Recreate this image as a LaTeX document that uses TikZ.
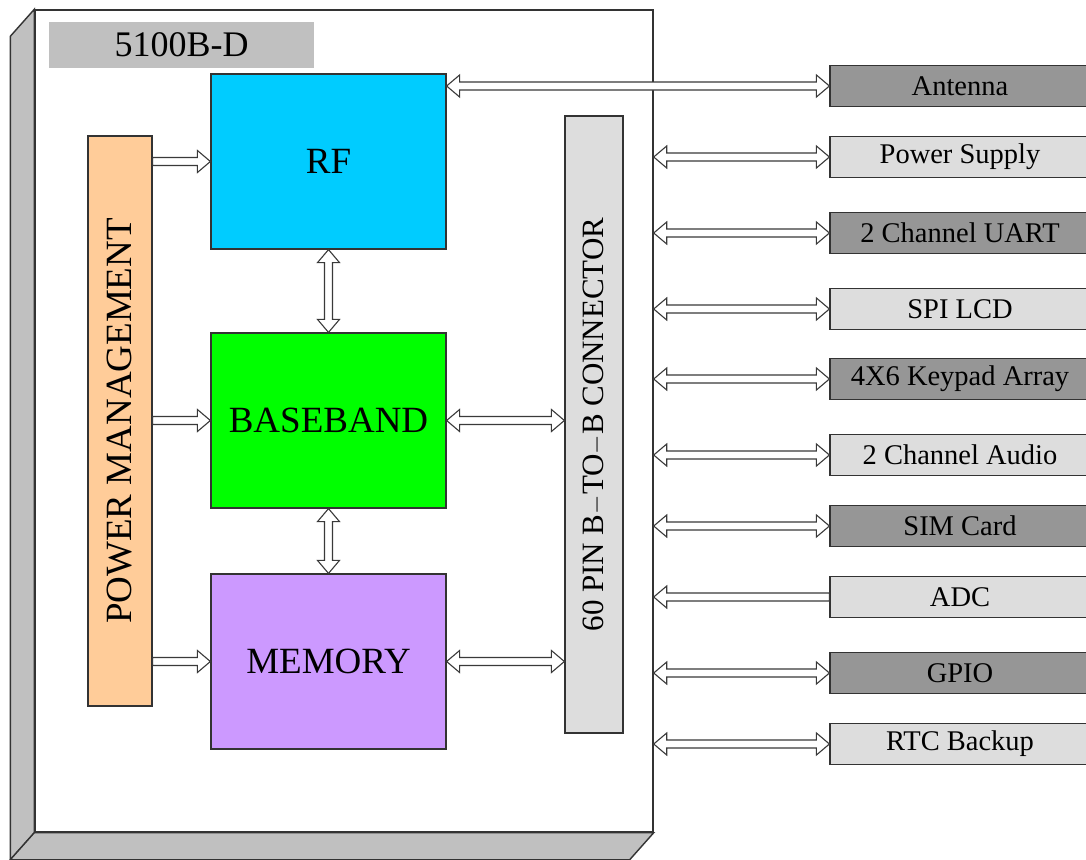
\documentclass[tikz,border=0pt]{standalone}
\usepackage{fontspec}
\setmainfont{Liberation Serif}
\usepackage{graphicx}
\usetikzlibrary{calc}
\definecolor{linec}{HTML}{333333}
\definecolor{arrc}{HTML}{3A3A3A}
\definecolor{sidec}{HTML}{C0C0C0}
\definecolor{rfc}{HTML}{00CCFF}
\definecolor{bbc}{HTML}{00FF00}
\definecolor{memc}{HTML}{CC99FF}
\definecolor{pmc}{HTML}{FFCC99}
\definecolor{conc}{HTML}{DDDDDD}
\definecolor{darkc}{HTML}{969696}
\definecolor{lightc}{HTML}{DDDDDD}
\newdimen\ahl \ahl=13pt
\newdimen\ahw \ahw=11pt
\newdimen\asw \asw=4pt
% horizontal double-headed hollow arrow
\newcommand\hbiarrow[2]{\draw[hol] let \p1=(#1), \p2=(#2) in
  (\x1,\y1) -- (\x1+\ahl,\y1+\ahw) -- (\x1+\ahl,\y1+\asw) -- (\x2-\ahl,\y1+\asw)
  -- (\x2-\ahl,\y1+\ahw) -- (\x2,\y1) -- (\x2-\ahl,\y1-\ahw) -- (\x2-\ahl,\y1-\asw)
  -- (\x1+\ahl,\y1-\asw) -- (\x1+\ahl,\y1-\ahw) -- cycle;}
% vertical double-headed hollow arrow
\newcommand\vbiarrow[2]{\draw[hol] let \p1=(#1), \p2=(#2) in
  (\x1,\y1) -- (\x1+\ahw,\y1-\ahl) -- (\x1+\asw,\y1-\ahl) -- (\x1+\asw,\y2+\ahl)
  -- (\x1+\ahw,\y2+\ahl) -- (\x1,\y2) -- (\x1-\ahw,\y2+\ahl) -- (\x1-\asw,\y2+\ahl)
  -- (\x1-\asw,\y1-\ahl) -- (\x1-\ahw,\y1-\ahl) -- cycle;}
% horizontal single-headed hollow arrow, head at #2
\newcommand\harr[2]{\draw[hol] let \p1=(#1), \p2=(#2), \n1={sign(\x2-\x1)} in
  (\x1,\y1+\asw) -- (\x2-\n1*\ahl,\y1+\asw) -- (\x2-\n1*\ahl,\y1+\ahw) -- (\x2,\y1)
  -- (\x2-\n1*\ahl,\y1-\ahw) -- (\x2-\n1*\ahl,\y1-\asw) -- (\x1,\y1-\asw) -- cycle;}
\begin{document}
\begin{tikzpicture}[x=1pt,y=-1pt,
  face/.style={draw=linec, line width=1.4pt, fill=sidec, line join=miter},
  blk/.style={draw=linec, line width=1.2pt, inner sep=0pt, text=black,
    font=\fontsize{37}{40}\selectfont},
  lbl/.style={draw=linec, line width=1.2pt, inner sep=0pt, text=black,
    minimum width=260pt, minimum height=41pt, font=\fontsize{28.5}{30}\selectfont},
  hol/.style={draw=arrc, fill=white, line width=1.1pt, line join=miter}]
\useasboundingbox (0,0) rectangle (1086,859);
\clip (0,0) rectangle (1086,859);
\fill[white] (0,0) rectangle (1086,859);
% 3D module box
\node[draw=linec, line width=1.4pt, fill=white, minimum width=618pt, minimum height=822pt, inner sep=0pt] (main) at (344,421) {};
\draw[face] (main.north west) -- ++(-24,27) -- ($(main.south west)+(-24,27)$) -- (main.south west) -- cycle;
\draw[face] (main.south west) -- ++(-24,27) -- ($(main.south east)+(-24,27)$) -- (main.south east) -- cycle;
\draw[draw=linec, line width=1.4pt] (main.north west) rectangle (main.south east);
% title
\node[fill=sidec, minimum width=265pt, minimum height=46pt, inner sep=0pt, font=\fontsize{36}{38}\selectfont] (title) at (181.5,45) {5100B-D};
% inner blocks
\node[blk, fill=rfc, minimum width=235pt, minimum height=175pt] (rf) at (328.5,161.5) {RF};
\node[blk, fill=bbc, minimum width=235pt, minimum height=175pt] (bb) at (328.5,420.5) {BASEBAND};
\node[blk, fill=memc, minimum width=235pt, minimum height=175pt] (mem) at (328.5,661.5) {MEMORY};
\node[blk, fill=pmc, minimum width=64pt, minimum height=570pt] (pm) at (120,421) {\rotatebox{90}{POWER MANAGEMENT}};
\node[blk, fill=conc, minimum width=58pt, minimum height=617pt, font=\fontsize{31}{33}\selectfont] (con) at (594,424.5) {\rotatebox{90}{60 PIN B$-$TO$-$B CONNECTOR}};
% external interface labels
\node[lbl, fill=darkc] (ant) at (960,86) {Antenna};
\node[lbl, fill=lightc] (ps) at (960,157) {Power Supply};
\node[lbl, fill=darkc] (uart) at (960,233) {2 Channel UART};
\node[lbl, fill=lightc] (spi) at (960,309) {SPI LCD};
\node[lbl, fill=darkc] (key) at (960,379) {4X6 Keypad Array};
\node[lbl, fill=lightc] (aud) at (960,455) {2 Channel Audio};
\node[lbl, fill=darkc] (sim) at (960,526) {SIM Card};
\node[lbl, fill=lightc] (adc) at (960,597) {ADC};
\node[lbl, fill=darkc] (gpio) at (960,673) {GPIO};
\node[lbl, fill=lightc] (rtc) at (960,744) {RTC Backup};
% internal arrows
\harr{pm.east |- rf.west}{rf.west}
\harr{pm.east |- bb.west}{bb.west}
\harr{pm.east |- mem.west}{mem.west}
\vbiarrow{rf.south}{bb.north}
\vbiarrow{bb.south}{mem.north}
\hbiarrow{bb.east}{con.west |- bb.east}
\hbiarrow{mem.east}{con.west |- mem.east}
% external arrows
\hbiarrow{rf.east |- ant.west}{ant.west}
\hbiarrow{main.east |- ps.west}{ps.west}
\hbiarrow{main.east |- uart.west}{uart.west}
\hbiarrow{main.east |- spi.west}{spi.west}
\hbiarrow{main.east |- key.west}{key.west}
\hbiarrow{main.east |- aud.west}{aud.west}
\hbiarrow{main.east |- sim.west}{sim.west}
\harr{adc.west}{main.east |- adc.west}
\hbiarrow{main.east |- gpio.west}{gpio.west}
\hbiarrow{main.east |- rtc.west}{rtc.west}
\end{tikzpicture}
\end{document}
